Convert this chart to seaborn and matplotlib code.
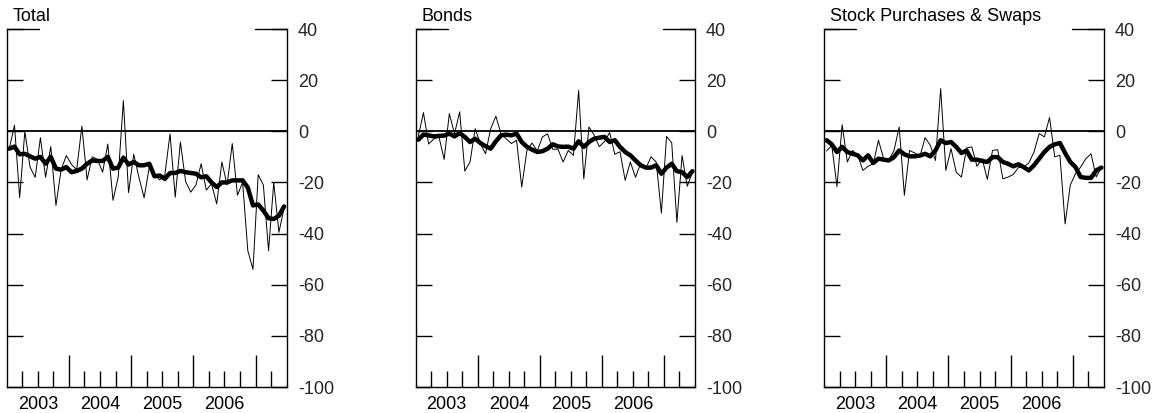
import numpy as np
import pandas as pd
import matplotlib
matplotlib.use('Agg')
import matplotlib.pyplot as plt
import seaborn as sns

# ------------------------------------------------------------------
# Data (monthly, Jan 2003 - Jun 2007), thin = monthly, thick = smoothed
# ------------------------------------------------------------------
titles = ['Total', 'Bonds', 'Stock Purchases & Swaps']
year_labels = ['2003', '2004', '2005', '2006']

total_monthly = [-6.8, 2.4, -26, 0, -14, -18, -2.5, -18, -6, -29,
                 -15, -9.5, -13, -15, 2, -19, -10, -11, -16, -5,
                 -27, -18, 12, -24, -9, -18, -26, -14, -17, -19,
                 -17, -1, -25.8, -4.2, -19.6, -23.8, -21, -12.7, -23, -20.5,
                 -28.4, -12, -21, -4.8, -25, -20, -46.7, -54, -17, -21,
                 -46.7, -20, -39.5, -30]
total_smooth = [-6.8, -6, -9, -8.8, -9.8, -10.7, -10, -12.7, -10, -14.6,
                -15, -14, -16, -15.5, -14.6, -12.7, -11.4, -11.6, -11.6, -10,
                -14.6, -14.2, -10.3, -13, -12, -13.3, -13.3, -12.7, -17.6, -17.3,
                -18.6, -16.3, -16.3, -15.5, -16, -16.3, -16.6, -18, -17.6, -20,
                -21.8, -20, -20, -19.2, -19.2, -19.2, -22, -29, -28.6, -31,
                -34, -34.3, -33, -29.4]

bonds_monthly = [-2, 7.3, -5, -3, -2.2, -11, 6.9, -1, 7.6, -15.6,
                 -12, 1, -4.8, -8.8, 1, 5.9, -1, -2.9, -4.8, -3.5,
                 -21.8, -7.5, -4.6, -7.7, -2.2, -1, -7, -7, -12, -7.5,
                 -9.4, 16, -18.6, 1.7, -1.5, -6, -4, -0.5, -9, -8,
                 -19.2, -12, -18, -12.5, -14.5, -10, -12, -32, -2, -4.5,
                 -35.6, -9.5, -21.5, -16]
bonds_smooth = [-3.3, -1.3, -1.6, -2, -1.8, -1.7, -0.9, -2, -0.7, -2.2,
                -4.2, -2.9, -4.6, -5.8, -6.8, -3.9, -1.6, -1.3, -1.6, -0.9,
                -4.2, -6.1, -7.2, -8.1, -7.8, -6.8, -5.1, -5.9, -6.1, -6,
                -6.8, -3.9, -6.1, -4.2, -2.9, -2.5, -2.2, -4.2, -3.5, -6.1,
                -8.1, -9.4, -11.4, -13.3, -14.2, -14.2, -13.3, -16.6, -14.2, -12.7,
                -15.6, -16, -17.9, -15.6]

stock_monthly = [-7.7, -5.5, -21.6, 2.6, -12, -7.5, -9.4, -15.3, -13.7, -12.7,
                 -3.5, -10.7, -11.4, -7.5, 1.7, -25, -7.5, -8.5, -9.8, -2.5,
                 -5.5, -11.4, 16.7, -15.3, -6.8, -16, -17.9, -6.5, -6.1, -13.7,
                 -10.7, -18.8, -7.5, -7.2, -18.6, -17.9, -16.9, -14.2, -14, -12.4,
                 -8.1, -0.9, -2.2, 5.4, -10, -9.4, -36.2, -21, -16.6, -14,
                 -10.7, -8.8, -17.9, -14]
stock_smooth = [-3.5, -5.1, -8.1, -6.1, -8.1, -8.8, -9.4, -11.4, -9.4, -12.4,
                -10.7, -11.1, -11.4, -10.1, -7.5, -9, -9.8, -9.8, -9.5, -8.8,
                -9.8, -7.5, -3.5, -4.6, -4.2, -6.1, -8.5, -7.5, -11.1, -11.1,
                -11.6, -12, -10.1, -10.1, -12, -12.7, -13.7, -12.9, -14, -15.3,
                -13.3, -10.7, -8.1, -6.1, -5.1, -4.6, -8.5, -12, -14, -17.9,
                -18.2, -18.2, -15.3, -14.2]

monthly = [total_monthly, bonds_monthly, stock_monthly]
smooth = [total_smooth, bonds_smooth, stock_smooth]

# months since Jan 2003, plotted mid-month
months = np.arange(len(total_monthly)) + 0.5

# ------------------------------------------------------------------
# Style
# ------------------------------------------------------------------
sns.set_theme(style='white')
plt.rcParams['font.family'] = ['Liberation Sans', 'DejaVu Sans']
plt.rcParams['axes.unicode_minus'] = False

fig = plt.figure(figsize=(11.62, 4.13), dpi=100)
lefts = [6.7 / 1162, 415.7 / 1162, 824 / 1162]
widths = [280 / 1162, 279.3 / 1162, 280 / 1162]
bottom, height = 26 / 413, 358 / 413

for k in range(3):
    ax = fig.add_axes([lefts[k], bottom, widths[k], height])
    df = pd.DataFrame({'month': months, 'monthly': monthly[k], 'smooth': smooth[k]})

    ax.axhline(0, color='black', lw=1.3, zorder=1)
    sns.lineplot(data=df, x='month', y='monthly', ax=ax, color='black', lw=0.7)
    sns.lineplot(data=df, x='month', y='smooth', ax=ax, color='black', lw=3.2)

    ax.set_xlim(0, 54)
    ax.set_ylim(-100, 40)
    ax.set_xlabel('')
    ax.set_ylabel('')

    # spines
    for side in ['left', 'right', 'bottom']:
        ax.spines[side].set_visible(True)
        ax.spines[side].set_color('black')
        ax.spines[side].set_linewidth(1.0)
    ax.spines['top'].set_visible(False)

    # y ticks on both sides, labels on the right
    ax.set_yticks(np.arange(-100, 41, 20))
    ax.tick_params(axis='y', which='major', direction='in', length=11.5, width=1,
                   color='black', left=True, right=True,
                   labelleft=False, labelright=True, labelsize=13, pad=8)
    # longer marks at the top
    ax.axhline(40, xmin=0, xmax=32 / 280, color='black', lw=1.0, clip_on=False)
    ax.axhline(40, xmin=1 - 32 / 280, xmax=1, color='black', lw=1.0, clip_on=False)

    # x ticks: year boundaries long, quarters short
    ax.set_xticks([12, 24, 36, 48])
    ax.set_xticks([q for q in range(3, 54, 3) if q % 12 != 0], minor=True)
    ax.tick_params(axis='x', which='major', direction='in', length=23, width=1,
                   color='black', bottom=True, top=False, labelbottom=False)
    ax.tick_params(axis='x', which='minor', direction='in', length=11.5, width=1,
                   color='black', bottom=True, top=False, labelbottom=False)
    for j, lab in enumerate(year_labels):
        ax.text(6 + 12 * j, -0.062, lab, transform=ax.get_xaxis_transform(),
                ha='center', va='baseline', fontsize=13, color='black')

    ax.text(0.022, 1.022, titles[k], transform=ax.transAxes,
            ha='left', va='baseline', fontsize=13, color='black')

fig.savefig('out.png', dpi=100)
